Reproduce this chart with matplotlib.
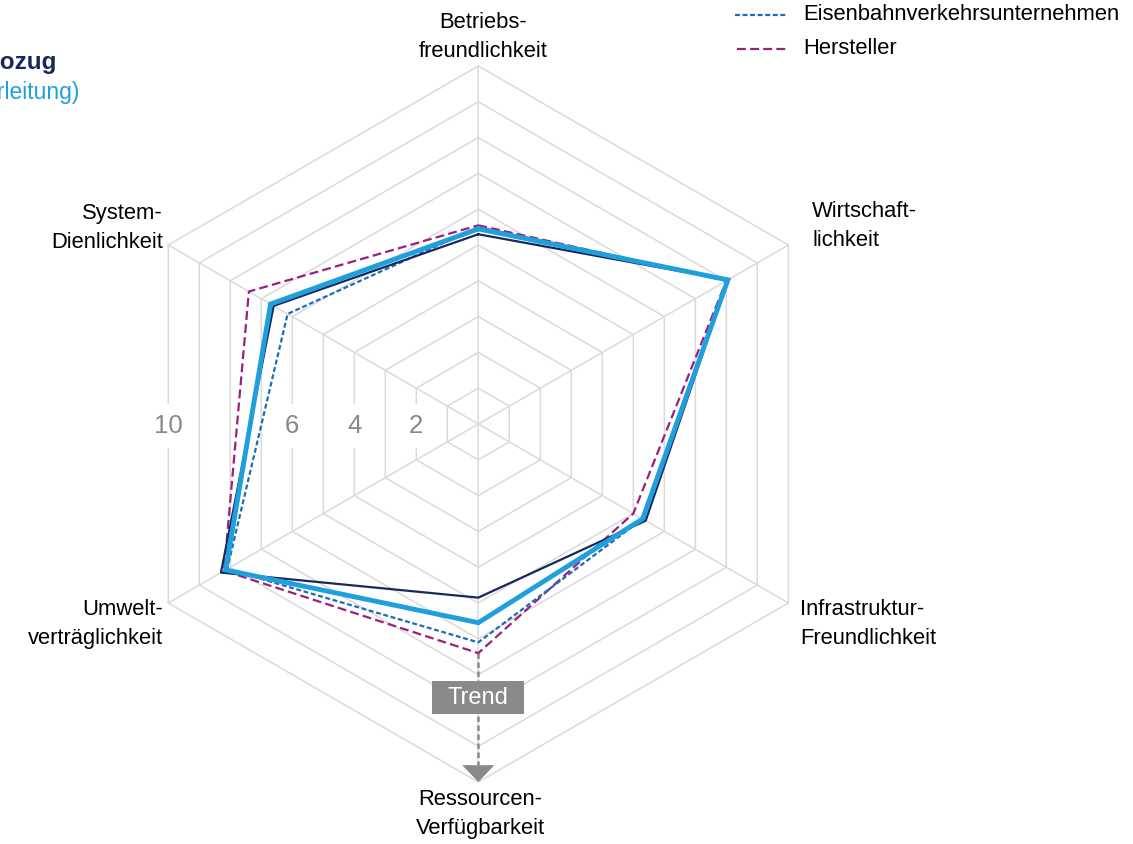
import numpy as np
import matplotlib.pyplot as plt
from matplotlib.patches import Rectangle, Polygon

plt.rcParams['font.family'] = ['Liberation Sans', 'DejaVu Sans']

# Criteria, clockwise from the top
categories = ["Betriebs-\nfreundlichkeit", "Wirtschaft-\nlichkeit",
              "Infrastruktur-\nFreundlichkeit", "Ressourcen-\nVerfügbarkeit",
              "Umwelt-\nverträglichkeit", "System-\nDienlichkeit"]
angles_deg = [90, 30, -30, -90, -150, 150]

# Scores (0-10) per criterion
elektrozug = [5.3, 8.05, 5.4, 4.85, 8.3, 6.6]
oberleitung = [5.45, 8.05, 5.3, 5.55, 8.15, 6.7]
evu = [5.5, 8.05, 5.3, 6.1, 8.1, 6.15]
hersteller = [5.55, 8.0, 5.0, 6.4, 8.2, 7.4]

rings = list(range(1, 11))
tick_values = [2, 4, 6, 10]
r_max = 10

NAVY = "#17295c"
LIGHTBLUE = "#1f9fdc"
DOTBLUE = "#1c6db5"
PURPLE = "#9a1f7f"
GRID = "#dadada"
TREND = "#8a8a8a"

W, H = 1133, 844
CX, CY, U = 478.3, 424.0, 35.8


def px(x, y):
    """Pixel position on the canvas -> data units of the radar axes."""
    return (x - CX) / U, (CY - y) / U


theta = np.deg2rad(angles_deg)


def to_xy(values, close=True):
    r = np.asarray(values, dtype=float)
    x, y = r * np.cos(theta), r * np.sin(theta)
    if close:
        x, y = np.append(x, x[0]), np.append(y, y[0])
    return x, y


fig = plt.figure(figsize=(W / 100, H / 100), dpi=100)
ax = fig.add_axes([0, 0, 1, 1])
ax.set_xlim(px(0, 0)[0], px(W, 0)[0])
ax.set_ylim(px(0, H)[1], px(0, 0)[1])
ax.axis('off')

# hexagonal grid
for k in rings:
    gx, gy = to_xy([k] * 6)
    ax.plot(gx, gy, color=GRID, lw=1.1, zorder=1, solid_joinstyle='miter')
for t in theta:
    ax.plot([0, r_max * np.cos(t)], [0, r_max * np.sin(t)], color=GRID, lw=1.1, zorder=1)

# scale labels on the left edges
for v in tick_values:
    ax.text(-v * np.cos(np.deg2rad(30)), -0.05, str(v), ha='center', va='center',
            fontsize=18.5, color="#888888", zorder=2,
            bbox=dict(boxstyle='square,pad=0.4', fc='white', ec='none'))

# data series
x, y = to_xy(hersteller)
ax.plot(x, y, color=PURPLE, lw=1.6, ls=(0, (4.0, 1.9)), zorder=3)
x, y = to_xy(evu)
ax.plot(x, y, color=DOTBLUE, lw=1.6, ls=(0, (2.2, 1.2)), zorder=3)
x, y = to_xy(elektrozug)
ax.plot(x, y, color=NAVY, lw=1.6, zorder=4)
x, y = to_xy(oberleitung)
ax.plot(x, y, color=LIGHTBLUE, lw=3.5, zorder=5, solid_joinstyle='miter')

# trend indicator on the resource axis
r_start = hersteller[3]
r_head = 9.53
ax.plot([0, 0], [-r_start, -r_head], color=TREND, lw=1.8, ls=(0, (2.2, 1.4)), zorder=2)
ax.add_patch(Polygon([[-0.45, -r_head], [0.45, -r_head], [0, -r_max]],
                     closed=True, fc=TREND, ec='none', zorder=3))
bw, bh, bc = 2.57, 0.92, 7.64
ax.add_patch(Rectangle((-bw / 2 - 0.02, -bc - bh / 2), bw, bh, fc=TREND, ec='none', zorder=6))
ax.text(-0.02, -bc, "Trend", ha='center', va='center', color='white', fontsize=17, zorder=7)

# axis labels
fs = 15.8
ls_ = 1.5
ax.text(*px(483, 62), categories[0], ha='center', va='bottom', fontsize=fs, linespacing=ls_)
ax.text(*px(812, 226), categories[1], ha='left', va='center', fontsize=fs, linespacing=ls_)
ax.text(*px(800, 624), categories[2], ha='left', va='center', fontsize=fs, linespacing=ls_)
ax.text(*px(480, 789), categories[3], ha='center', va='top', fontsize=fs, linespacing=ls_)
ax.text(*px(163, 624), categories[4], ha='right', va='center', fontsize=fs,
        linespacing=ls_, multialignment='right')
ax.text(*px(163, 228), categories[5], ha='right', va='center', fontsize=fs,
        linespacing=ls_, multialignment='right')

# legend, left block
ax.text(*px(57, 62), "Elektrozug", ha='right', va='center', fontsize=17.5,
        fontweight='bold', color=NAVY)
ax.text(*px(80, 92), "(Oberleitung)", ha='right', va='center', fontsize=16.5,
        color=LIGHTBLUE)

# legend, right block
lx0, lx1 = px(735, 0)[0], px(787, 0)[0]
ax.plot([lx0, lx1], [px(0, 15)[1]] * 2, color=DOTBLUE, lw=1.6, ls=(0, (2.2, 1.2)))
ax.plot([px(737, 0)[0], lx1], [px(0, 49)[1]] * 2, color=PURPLE, lw=1.6, ls=(0, (4.0, 1.9)))
ax.text(*px(803, 15), "Eisenbahnverkehrsunternehmen", ha='left', va='center', fontsize=fs)
ax.text(*px(803, 49), "Hersteller", ha='left', va='center', fontsize=fs)

fig.savefig("out.png", dpi=100)
